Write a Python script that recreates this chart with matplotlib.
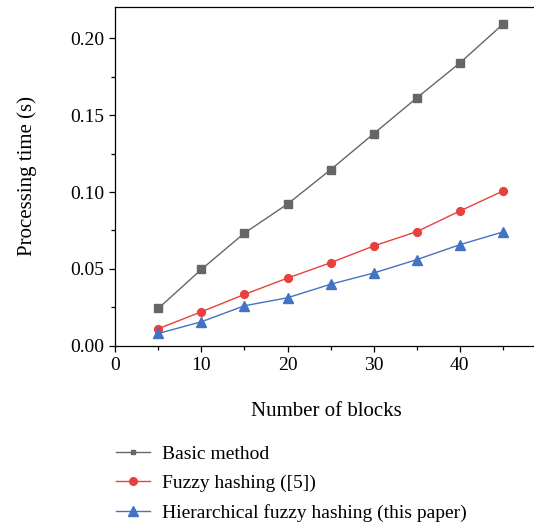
import matplotlib
matplotlib.use("Agg")
import matplotlib.pyplot as plt
from matplotlib.lines import Line2D
from matplotlib.ticker import MultipleLocator

plt.rcParams["font.family"] = ["Liberation Serif", "DejaVu Serif"]

blocks = [5, 10, 15, 20, 25, 30, 35, 40, 45]
basic = [0.0243, 0.0497, 0.0733, 0.0922, 0.1145, 0.1379, 0.1612, 0.1839, 0.2091]
fuzzy = [0.0111, 0.0221, 0.0334, 0.0440, 0.0540, 0.0649, 0.0742, 0.0876, 0.1006]
hier = [0.0080, 0.0156, 0.0260, 0.0312, 0.0400, 0.0473, 0.0560, 0.0657, 0.0740]

labels = ["Basic method", "Fuzzy hashing ([5])", "Hierarchical fuzzy hashing (this paper)"]
c_gray, c_red, c_blue = "#666666", "#e8413c", "#4472c4"

fig = plt.figure(figsize=(5.34, 5.27), dpi=100)
ax = fig.add_axes([0.216, 0.344, 0.79, 0.6427])

ax.plot(blocks, basic, color=c_gray, lw=1.0, marker="s", ms=5.2, zorder=3)
ax.plot(blocks, fuzzy, color=c_red, lw=1.0, marker="o", ms=5.6, zorder=3)
ax.plot(blocks, hier, color=c_blue, lw=1.0, marker="^", ms=6.6, zorder=3)

ax.set_xlim(0, 49)
ax.set_ylim(0, 0.2204)
ax.xaxis.set_major_locator(MultipleLocator(10))
ax.xaxis.set_minor_locator(MultipleLocator(5))
ax.yaxis.set_major_locator(MultipleLocator(0.05))
ax.yaxis.set_minor_locator(MultipleLocator(0.025))
ax.yaxis.set_major_formatter(matplotlib.ticker.FormatStrFormatter("%.2f"))
ax.tick_params(which="both", direction="out", width=0.9, labelsize=14)
ax.tick_params(which="major", length=4.5)
ax.tick_params(which="minor", length=3)
for s in ax.spines.values():
    s.set_linewidth(0.9)

ax.set_xlabel("Number of blocks", fontsize=15, labelpad=20)
ax.set_ylabel("Processing time (s)", fontsize=15, labelpad=24)

handles = [
    Line2D([], [], color=c_gray, lw=1.0, marker="s", ms=3),
    Line2D([], [], color=c_red, lw=1.0, marker="o", ms=5.5),
    Line2D([], [], color=c_blue, lw=1.0, marker="^", ms=6.5),
]
fig.legend(handles, labels, loc="upper left", bbox_to_anchor=(116 / 534, 1 - 445 / 527),
           frameon=False, fontsize=14, handlelength=1.75, handletextpad=0.6,
           labelspacing=0.6, borderpad=0, borderaxespad=0)

fig.savefig("out.png", dpi=100)
